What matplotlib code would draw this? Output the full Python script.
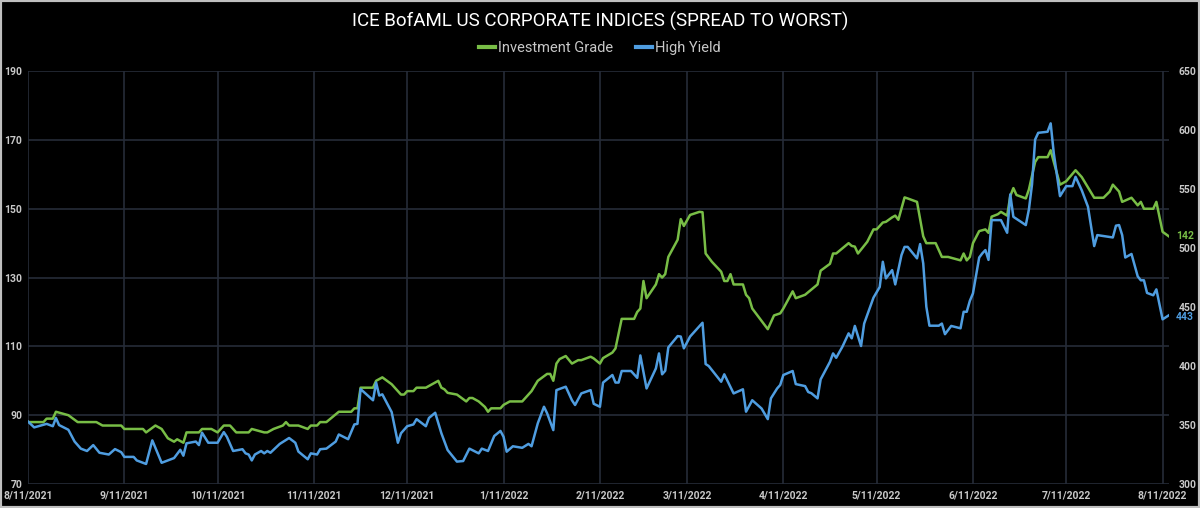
import matplotlib
matplotlib.use("Agg")
import matplotlib.pyplot as plt
import pandas as pd
from matplotlib.patches import Rectangle

# Investment Grade spread (left axis, bp)
ig_dates = ["2021-08-11", "2021-08-16", "2021-08-17", "2021-08-19", "2021-08-20", "2021-08-24", "2021-08-27",
            "2021-09-02", "2021-09-04", "2021-09-10", "2021-09-11", "2021-09-17", "2021-09-18", "2021-09-21",
            "2021-09-23", "2021-09-25", "2021-09-27", "2021-09-28", "2021-09-30", "2021-10-01", "2021-10-05",
            "2021-10-06", "2021-10-09", "2021-10-11", "2021-10-13", "2021-10-15", "2021-10-17", "2021-10-21",
            "2021-10-22", "2021-10-26", "2021-10-27", "2021-10-29", "2021-11-01", "2021-11-02", "2021-11-03",
            "2021-11-06", "2021-11-09", "2021-11-10", "2021-11-12", "2021-11-13", "2021-11-15", "2021-11-19",
            "2021-11-23", "2021-11-24", "2021-11-25", "2021-11-26", "2021-11-30", "2021-12-01", "2021-12-03",
            "2021-12-06", "2021-12-09", "2021-12-10", "2021-12-11", "2021-12-13", "2021-12-14", "2021-12-17",
            "2021-12-21", "2021-12-22", "2021-12-23", "2021-12-24", "2021-12-27", "2021-12-30", "2021-12-31",
            "2022-01-01", "2022-01-03", "2022-01-05", "2022-01-06", "2022-01-07", "2022-01-10", "2022-01-11",
            "2022-01-13", "2022-01-17", "2022-01-20", "2022-01-22", "2022-01-25", "2022-01-26", "2022-01-27",
            "2022-01-28", "2022-01-29", "2022-01-31", "2022-02-02", "2022-02-04", "2022-02-05", "2022-02-08",
            "2022-02-09", "2022-02-11", "2022-02-12", "2022-02-15", "2022-02-16", "2022-02-18", "2022-02-22",
            "2022-02-23", "2022-02-24", "2022-02-25", "2022-02-26", "2022-03-01", "2022-03-02", "2022-03-03",
            "2022-03-04", "2022-03-05", "2022-03-08", "2022-03-09", "2022-03-10", "2022-03-12", "2022-03-15",
            "2022-03-16", "2022-03-17", "2022-03-19", "2022-03-22", "2022-03-23", "2022-03-24", "2022-03-25",
            "2022-03-26", "2022-03-29", "2022-03-30", "2022-03-31", "2022-04-01", "2022-04-04", "2022-04-06",
            "2022-04-07", "2022-04-08", "2022-04-10", "2022-04-11", "2022-04-14", "2022-04-15", "2022-04-18",
            "2022-04-22", "2022-04-23", "2022-04-26", "2022-04-27", "2022-04-28", "2022-04-30", "2022-05-02",
            "2022-05-03", "2022-05-04", "2022-05-05", "2022-05-08", "2022-05-10", "2022-05-11", "2022-05-13",
            "2022-05-14", "2022-05-16", "2022-05-17", "2022-05-18", "2022-05-20", "2022-05-21", "2022-05-24",
            "2022-05-26", "2022-05-27", "2022-05-30", "2022-06-01", "2022-06-03", "2022-06-07", "2022-06-08",
            "2022-06-09", "2022-06-10", "2022-06-11", "2022-06-13", "2022-06-15", "2022-06-16", "2022-06-17",
            "2022-06-19", "2022-06-20", "2022-06-22", "2022-06-23", "2022-06-24", "2022-06-25", "2022-06-28",
            "2022-06-29", "2022-07-01", "2022-07-02", "2022-07-05", "2022-07-06", "2022-07-07", "2022-07-09",
            "2022-07-11", "2022-07-14", "2022-07-16", "2022-07-18", "2022-07-20", "2022-07-23", "2022-07-25",
            "2022-07-26", "2022-07-28", "2022-07-29", "2022-08-01", "2022-08-03", "2022-08-04", "2022-08-05",
            "2022-08-08", "2022-08-09", "2022-08-11", "2022-08-13"]
ig_values = [88, 88, 89, 89, 91, 90, 88,
             88, 87, 87, 86, 86, 85, 87,
             86, 83.3, 82.3, 83, 82, 85, 85,
             86, 86, 85, 87, 87, 85, 85,
             86, 85, 85, 86, 87, 88, 87,
             87, 86, 87, 87, 88, 88, 91,
             91, 92, 92, 98, 98, 100, 101,
             99, 96, 96, 97, 97, 98, 98,
             100, 98, 97.5, 96.5, 96, 94, 95,
             95, 94, 92.4, 91, 92, 92, 93,
             94, 94, 97, 100, 102, 102, 100,
             105, 106.3, 107.2, 105, 106, 106, 107,
             106.5, 105, 106.6, 108.2, 109.4, 118, 118,
             120, 121, 129, 124, 128, 131, 130,
             131, 136, 141, 147, 145, 148.2, 149.1,
             149, 137, 134.6, 131.7, 129, 129, 131,
             128, 128, 125, 124, 121, 117.4, 115,
             117, 119, 119.6, 121, 126, 124, 125,
             128, 132, 134, 137, 137, 138.5, 140,
             139.2, 139, 137, 140.4, 144, 144, 146,
             146.2, 147.5, 148, 146.8, 153.3, 153, 152,
             142, 140, 140, 136, 136, 135, 137,
             135, 136, 140, 143.5, 144, 143, 147.7,
             148.4, 149.1, 148, 153.7, 156, 154, 153,
             155.6, 163.6, 165, 165, 167, 163.6, 157,
             158, 161.2, 159.2, 156.2, 153.2, 153.2, 155,
             157, 155, 152, 153.2, 151, 152, 150,
             150, 152, 143.3, 142]

# High Yield spread (right axis, bp)
hy_dates = ["2021-08-11", "2021-08-13", "2021-08-17", "2021-08-19", "2021-08-20", "2021-08-21", "2021-08-24",
            "2021-08-26", "2021-08-28", "2021-08-30", "2021-09-01", "2021-09-03", "2021-09-06", "2021-09-08",
            "2021-09-10", "2021-09-11", "2021-09-14", "2021-09-15", "2021-09-18", "2021-09-20", "2021-09-23",
            "2021-09-25", "2021-09-27", "2021-09-29", "2021-09-30", "2021-10-01", "2021-10-04", "2021-10-05",
            "2021-10-06", "2021-10-08", "2021-10-11", "2021-10-13", "2021-10-14", "2021-10-16", "2021-10-19",
            "2021-10-20", "2021-10-21", "2021-10-22", "2021-10-23", "2021-10-25", "2021-10-26", "2021-10-27",
            "2021-10-28", "2021-10-31", "2021-11-03", "2021-11-05", "2021-11-06", "2021-11-09", "2021-11-10",
            "2021-11-12", "2021-11-13", "2021-11-15", "2021-11-18", "2021-11-19", "2021-11-22", "2021-11-24",
            "2021-11-25", "2021-11-26", "2021-11-30", "2021-12-01", "2021-12-02", "2021-12-03", "2021-12-06",
            "2021-12-08", "2021-12-09", "2021-12-11", "2021-12-13", "2021-12-14", "2021-12-17", "2021-12-18",
            "2021-12-20", "2021-12-22", "2021-12-24", "2021-12-27", "2021-12-29", "2021-12-31", "2022-01-03",
            "2022-01-04", "2022-01-06", "2022-01-08", "2022-01-10", "2022-01-11", "2022-01-12", "2022-01-14",
            "2022-01-17", "2022-01-19", "2022-01-20", "2022-01-22", "2022-01-24", "2022-01-25", "2022-01-27",
            "2022-01-28", "2022-01-31", "2022-02-02", "2022-02-03", "2022-02-05", "2022-02-08", "2022-02-09",
            "2022-02-11", "2022-02-12", "2022-02-15", "2022-02-16", "2022-02-17", "2022-02-18", "2022-02-21",
            "2022-02-23", "2022-02-24", "2022-02-26", "2022-03-01", "2022-03-02", "2022-03-03", "2022-03-04",
            "2022-03-05", "2022-03-08", "2022-03-09", "2022-03-10", "2022-03-12", "2022-03-16", "2022-03-17",
            "2022-03-18", "2022-03-22", "2022-03-23", "2022-03-26", "2022-03-29", "2022-03-30", "2022-04-01",
            "2022-04-04", "2022-04-06", "2022-04-07", "2022-04-09", "2022-04-10", "2022-04-11", "2022-04-14",
            "2022-04-15", "2022-04-18", "2022-04-19", "2022-04-20", "2022-04-22", "2022-04-23", "2022-04-26",
            "2022-04-27", "2022-04-28", "2022-04-30", "2022-05-02", "2022-05-03", "2022-05-04", "2022-05-06",
            "2022-05-07", "2022-05-10", "2022-05-12", "2022-05-13", "2022-05-14", "2022-05-16", "2022-05-17",
            "2022-05-19", "2022-05-20", "2022-05-21", "2022-05-24", "2022-05-25", "2022-05-26", "2022-05-27",
            "2022-05-28", "2022-05-31", "2022-06-01", "2022-06-02", "2022-06-04", "2022-06-07", "2022-06-08",
            "2022-06-09", "2022-06-10", "2022-06-11", "2022-06-13", "2022-06-14", "2022-06-15", "2022-06-16",
            "2022-06-17", "2022-06-20", "2022-06-22", "2022-06-23", "2022-06-24", "2022-06-28", "2022-06-29",
            "2022-06-30", "2022-07-01", "2022-07-02", "2022-07-05", "2022-07-06", "2022-07-07", "2022-07-09",
            "2022-07-11", "2022-07-13", "2022-07-14", "2022-07-16", "2022-07-18", "2022-07-20", "2022-07-21",
            "2022-07-26", "2022-07-27", "2022-07-28", "2022-07-29", "2022-07-30", "2022-08-01", "2022-08-03",
            "2022-08-04", "2022-08-05", "2022-08-06", "2022-08-08", "2022-08-09", "2022-08-11", "2022-08-13"]
hy_values = [353, 348, 351, 349, 356, 350, 346,
             336, 330, 328, 333, 326.5, 325, 329.6,
             327, 323, 323, 320, 317, 337, 318,
             320, 322, 329, 324, 334.5, 336, 333,
             343.5, 335, 335, 344, 340, 328, 329.5,
             326, 325, 320, 325, 328, 326, 328,
             326.5, 334, 339, 335, 327.5, 321, 326,
             325, 329.5, 330, 336, 342, 338, 350.5,
             351, 380.5, 371, 386, 375, 376, 361,
             335, 343, 349, 350.5, 355, 349, 356,
             360.4, 343, 328.8, 319, 319.5, 330, 326,
             330, 328, 340.7, 345, 340, 327.4, 332,
             330.7, 334, 332, 351.4, 365.5, 360, 345.7,
             379.6, 382.5, 371, 367, 376.8, 379.6, 368,
             365.5, 386, 392.4, 386, 386, 395.8, 395.8,
             390, 409, 381, 398, 410.7, 393, 396,
             415.8, 425.4, 425, 415, 425, 436.7, 401.7,
             400, 386.7, 393, 376.8, 380.3, 361.3, 371,
             364, 355, 372.6, 381, 384, 392.4, 395.8,
             384.7, 383, 378, 377, 372.6, 388.7, 403.6,
             410.7, 407, 416.4, 427.7, 423.5, 434, 417,
             436, 458, 467, 488.4, 474.3, 481.3, 469.2,
             494, 501, 501, 491.3, 503.4, 487, 450.3,
             434.2, 434.2, 436, 427, 434, 432, 446,
             446, 455.3, 461.6, 492, 495.5, 498.3, 490,
             523.7, 523.7, 513, 545.5, 526.5, 519.5, 532.8,
             554, 592, 597.7, 598.6, 605.7, 580.3, 544,
             552.5, 552.5, 560.4, 549, 535, 501.7, 511,
             509, 519, 519.5, 511, 492, 495, 476,
             472.7, 472.7, 462, 460, 465, 439.6, 443]

left_ticks = [70, 90, 110, 130, 150, 170, 190]
right_ticks = [300, 350, 400, 450, 500, 550, 600, 650]
month_ticks = ["2021-08-11", "2021-09-11", "2021-10-11", "2021-11-11", "2021-12-11", "2022-01-11",
               "2022-02-11", "2022-03-11", "2022-04-11", "2022-05-11", "2022-06-11", "2022-07-11",
               "2022-08-11"]

GREEN = "#78bd46"
BLUE = "#4f9de0"
GRID = "#262c38"
LABEL = "#c8c8c8"

plt.rcParams['font.family'] = ['Roboto', 'DejaVu Sans']

ig_x = pd.to_datetime(ig_dates)
hy_x = pd.to_datetime(hy_dates)
tick_x = pd.to_datetime(month_ticks)

fig = plt.figure(figsize=(12, 5.08), dpi=100, facecolor="black")
ax = fig.add_axes([0.0233, 0.0472, 0.9507, 0.8128])
ax.set_facecolor("black")
ax2 = ax.twinx()

l1, = ax.plot(ig_x, ig_values, color=GREEN, lw=1.8, label="Investment Grade")
l2, = ax2.plot(hy_x, hy_values, color=BLUE, lw=1.8, label="High Yield")

ax.set_ylim(70, 190)
ax2.set_ylim(300, 650)
ax.set_xlim(pd.Timestamp("2021-08-11"), pd.Timestamp("2022-08-13"))
ax.set_yticks(left_ticks)
ax2.set_yticks(right_ticks)
ax.set_xticks(tick_x)
ax.set_xticklabels([f"{d.month}/{d.day}/{d.year}" for d in tick_x])

ax.grid(True, color=GRID, lw=1.2)
ax.set_axisbelow(True)
for a in (ax, ax2):
    for s in a.spines.values():
        s.set_visible(False)
    a.tick_params(length=0, colors=LABEL, labelsize=7.5)
ax.tick_params(axis="y", pad=4)
ax.tick_params(axis="x", pad=5)
ax2.tick_params(axis="y", pad=7)
for lab in ax.get_xticklabels() + ax.get_yticklabels() + ax2.get_yticklabels():
    lab.set_fontweight("bold")

# end-of-series labels
ax.annotate(f"{ig_values[-1]:.0f}", (ig_x[-1], ig_values[-1]), xytext=(5, 0), textcoords="offset points",
            color=GREEN, fontsize=7.5, fontweight="bold", va="center", ha="left", annotation_clip=False)
ax2.annotate(f"{hy_values[-1]:.0f}", (hy_x[-1], hy_values[-1]), xytext=(5, -1.5), textcoords="offset points",
             color=BLUE, fontsize=7.5, fontweight="bold", va="center", ha="left", annotation_clip=False)

fig.text(0.5, 0.958, "ICE BofAML US CORPORATE INDICES (SPREAD TO WORST)", ha="center", va="center",
         color="white", fontsize=13.5)
leg = fig.legend(handles=[l1, l2], loc="center", bbox_to_anchor=(0.5, 0.905), ncol=2, frameon=False,
                 fontsize=10.5, labelcolor=LABEL, handlelength=1.1, handletextpad=0.2, columnspacing=1.6)
for h in leg.legend_handles:
    h.set_linewidth(3)

fig.patches.append(Rectangle((0, 0), 1, 1, transform=fig.transFigure, fill=False,
                             edgecolor="#bfbfbf", lw=3))

fig.savefig("out.png", dpi=100, facecolor="black")
